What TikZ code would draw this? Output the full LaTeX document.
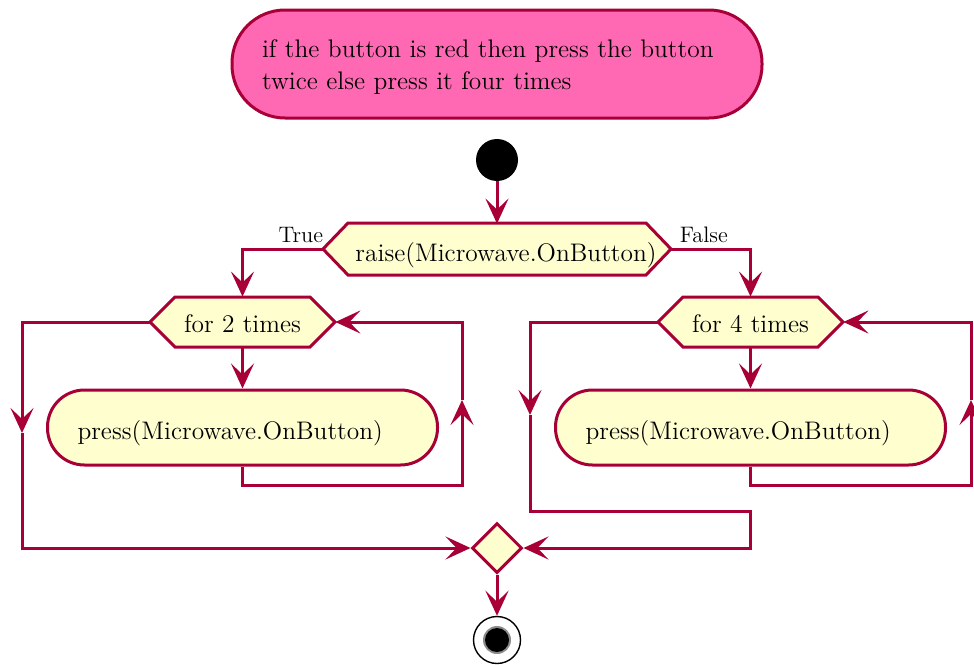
\documentclass[tikz,border=0pt]{standalone}
\usetikzlibrary{arrows.meta,shapes.geometric}
\definecolor{umlline}{HTML}{A80036}
\definecolor{umlfill}{HTML}{FEFECE}
\definecolor{notefill}{HTML}{FF69B4}
\begin{document}
\begin{tikzpicture}[x=0.5pt,y=-0.5pt,
  every node/.style={font=\fontsize{12.7}{16}\selectfont},
  conn/.style={draw=umlline, line width=1.5pt},
  arr/.style={conn, -{Stealth[length=12.5pt,width=11.5pt,inset=5.5pt]}},
  hexshape/.style={draw=umlline, fill=umlfill, line width=1.5pt, line join=miter},
  hexnode/.style={rectangle, minimum height=25pt, inner sep=0pt},
  action/.style={rectangle, draw=umlline, fill=umlfill, line width=1.5pt, rounded corners=18.5pt,
    minimum height=37.5pt, text width=165pt, align=left, inner xsep=15pt, inner ysep=0pt},
  note/.style={rectangle, draw=umlline, fill=notefill, line width=1.5pt, rounded corners=26.5pt,
    minimum height=54pt, text width=235pt, align=left, inner xsep=15pt},
  startdot/.style={circle, fill=black, minimum size=21pt, inner sep=0pt},
  mergebox/.style={diamond, draw=umlline, fill=umlfill, line width=1.5pt,
    minimum width=25pt, minimum height=25pt, inner sep=0pt},
  lbl/.style={font=\fontsize{11.2}{13}\selectfont, inner sep=0pt}]
\useasboundingbox (0,0) rectangle (974,664);

% note
\node[note] (note) at (497,64) {\rule{0pt}{11.8pt}if the button is red then press the button\\twice else press it four times};

% start
\node[startdot] (start) at (497,160) {};

% decision hexagon
\filldraw[hexshape] (323,249) -- (348,223) -- (646,223) -- (671,249) -- (646,275) -- (348,275) -- cycle;
\node[hexnode, minimum width=174pt] (dec) at (497,249) {\hspace*{9pt}\rule{0pt}{15.9pt}raise(Microwave.OnButton)};
\node[lbl, anchor=base east] (truelbl) at (323.5,242) {True};
\node[lbl, anchor=base west] (falselbl) at (679.5,242) {False};

% loop hexagons
\filldraw[hexshape] (150,322) -- (175,297) -- (310,297) -- (335,322) -- (310,347) -- (175,347) -- cycle;
\node[hexnode, minimum width=92.5pt] (for2) at (242.5,322) {\rule{0pt}{10.7pt}for 2 times};
\filldraw[hexshape] (658,322) -- (683,297) -- (818,297) -- (843,322) -- (818,347) -- (683,347) -- cycle;
\node[hexnode, minimum width=92.5pt] (for4) at (750.5,322) {\rule{0pt}{10.7pt}for 4 times};

% actions
\node[action] (press1) at (242.5,427.5) {\rule{0pt}{15pt}press(Microwave.OnButton)};
\node[action] (press2) at (750.5,427.5) {\rule{0pt}{15pt}press(Microwave.OnButton)};

% merge
\node[mergebox] (merge) at (497,548) {};

% end
\node[circle, draw=black, fill=white, line width=0.7pt, minimum size=23.5pt, inner sep=0pt] (end) at (497,640) {};
\node[circle, fill=black!45, minimum size=14pt, inner sep=0pt] (endhalo) at (end.center) {};
\node[circle, fill=black, minimum size=12pt, inner sep=0pt] (endin) at (end.center) {};

% helper coordinates
\coordinate (l1a) at (462,485);
\coordinate (l1b) at (462,400);
\coordinate (x1) at (22,433);
\coordinate (x2) at (530,415);
\coordinate (x3) at (750.5,511);
\coordinate (l2a) at (971,485);
\coordinate (l2b) at (971,400);

% connectors
\draw[arr] (start.south) -- (dec.north);
\draw[arr] (dec.west) -| (for2.north);
\draw[arr] (dec.east) -| (for4.north);
\draw[arr] (for2.south) -- (press1.north);
\draw[arr] (press1.south) |- (l1a) -- (l1b);
\draw[arr] (l1b) |- (for2.east);
\draw[arr] (for2.west) -| (x1);
\draw[arr] (x1) |- (merge.west);
\draw[arr] (for4.south) -- (press2.north);
\draw[arr] (press2.south) |- (l2a) -- (l2b);
\draw[arr] (l2b) |- (for4.east);
\draw[arr] (for4.west) -| (x2);
\draw[arr] (x2) |- (x3) |- (merge.east);
\draw[arr] (merge.south) -- (end.north);
\end{tikzpicture}
\end{document}
